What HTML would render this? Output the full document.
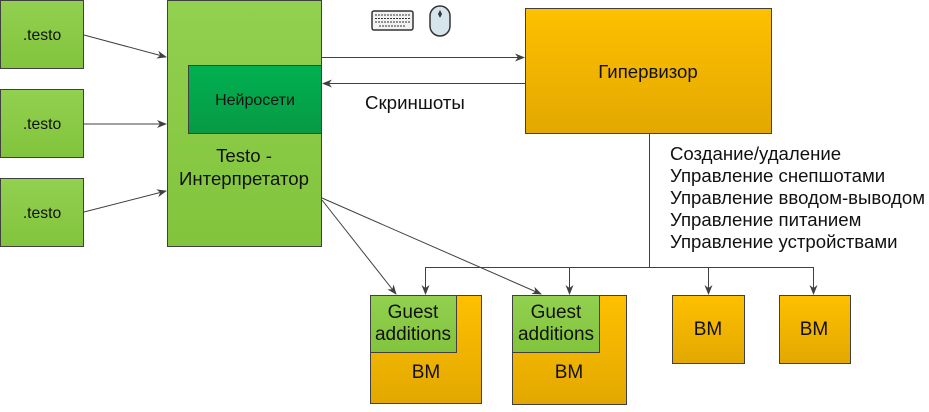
<!DOCTYPE html>
<html><head><meta charset="utf-8"><style>
body{margin:0;width:929px;height:407px;background:#fff;overflow:hidden;font-family:"Liberation Sans",sans-serif;}
</style></head><body>
<svg width="929" height="407" xmlns="http://www.w3.org/2000/svg" font-family="Liberation Sans, sans-serif">
<defs>
<linearGradient id="g" x1="0" y1="0" x2="0" y2="1"><stop offset="0" stop-color="#92d050"/><stop offset="1" stop-color="#82c43c"/></linearGradient>
<linearGradient id="dg" x1="0" y1="0" x2="0" y2="1"><stop offset="0" stop-color="#00b050"/><stop offset="1" stop-color="#079a45"/></linearGradient>
<linearGradient id="o" x1="0" y1="0" x2="0" y2="1"><stop offset="0" stop-color="#ffc000"/><stop offset="1" stop-color="#e2a800"/></linearGradient>
<marker id="a" markerWidth="10" markerHeight="8" refX="9" refY="4" orient="auto" markerUnits="userSpaceOnUse"><path d="M0,0 L10,4 L0,8 L3,4 z" fill="#404040"/></marker>
</defs>
<g stroke="#404040" stroke-width="1">
<rect x="0.5" y="0.5" width="83" height="68" fill="url(#g)"/>
<rect x="0.5" y="89.5" width="83" height="68" fill="url(#g)"/>
<rect x="0.5" y="178.5" width="83" height="68" fill="url(#g)"/>
<rect x="167.5" y="0.5" width="154" height="246" fill="url(#g)"/>
<rect x="188.5" y="65.5" width="133" height="68" fill="url(#dg)"/>
<rect x="525.5" y="8.5" width="246" height="125" fill="url(#o)"/>
<rect x="370.5" y="295.5" width="111" height="108" fill="url(#o)"/>
<rect x="370.5" y="295.5" width="86" height="57" fill="url(#g)"/>
<rect x="512.5" y="295.5" width="114" height="109" fill="url(#o)"/>
<rect x="512.5" y="295.5" width="87" height="57" fill="url(#g)"/>
<rect x="672.5" y="295.5" width="72" height="68" fill="url(#o)"/>
<rect x="779.5" y="295.5" width="71" height="68" fill="url(#o)"/>
</g>
<g stroke="#404040" stroke-width="1" fill="none">
<line x1="84" y1="35" x2="166" y2="57" marker-end="url(#a)"/>
<line x1="84" y1="124" x2="166" y2="124" marker-end="url(#a)"/>
<line x1="84" y1="212" x2="166" y2="191" marker-end="url(#a)"/>
<line x1="322" y1="57.5" x2="524" y2="57.5" marker-end="url(#a)"/>
<line x1="525" y1="83.5" x2="323" y2="83.5" marker-end="url(#a)"/>
<line x1="322" y1="200" x2="396" y2="294" marker-end="url(#a)"/>
<line x1="322" y1="198" x2="541" y2="294" marker-end="url(#a)"/>
<path d="M649.5,134 V267.5 M425.5,267.5 H814"/>
<line x1="425.5" y1="267" x2="425.5" y2="294" marker-end="url(#a)"/>
<line x1="569.5" y1="267" x2="569.5" y2="294" marker-end="url(#a)"/>
<line x1="708.5" y1="267" x2="708.5" y2="294" marker-end="url(#a)"/>
<line x1="813.5" y1="267" x2="813.5" y2="294" marker-end="url(#a)"/>
</g>
<rect x="372" y="11" width="41" height="19" rx="2" fill="#f2f2f2" stroke="#333" stroke-width="1.5"/>
<g stroke="#333" stroke-width="1" stroke-dasharray="2,1"><line x1="375" y1="15" x2="410" y2="15"/><line x1="375" y1="18.5" x2="410" y2="18.5"/><line x1="375" y1="22" x2="410" y2="22"/><line x1="379" y1="26" x2="406" y2="26"/></g>
<rect x="430" y="6" width="20" height="30" rx="10" fill="#d6e4ec" stroke="#333" stroke-width="1.5"/>
<path d="M440,10 L442,14 L440,18 L438,14 z" fill="#333"/>
<g fill="#111" font-size="15.7" text-anchor="middle">
<text x="42" y="40">.testo</text><text x="42" y="129">.testo</text><text x="42" y="218">.testo</text>
<text x="255" y="105" font-size="16">Нейросети</text>
<text x="244" y="162" font-size="18.6">Testo -</text>
<text x="244" y="185" font-size="18.6">Интерпретатор</text>
<text x="648" y="78" font-size="18.6">Гипервизор</text>
<text x="413" y="318" font-size="19">Guest</text><text x="413" y="340" font-size="19">additions</text>
<text x="556" y="318" font-size="19">Guest</text><text x="556" y="340" font-size="19">additions</text>
<text x="426" y="378" font-size="19">ВМ</text><text x="569" y="378" font-size="19">ВМ</text>
<text x="708" y="335" font-size="19">ВМ</text><text x="814" y="335" font-size="19">ВМ</text>
</g>
<text x="365" y="109" font-size="18.7" fill="#111">Скриншоты</text>
<g font-size="18.6" fill="#111">
<text x="670" y="160">Создание/удаление</text>
<text x="670" y="182">Управление снепшотами</text>
<text x="670" y="204">Управление вводом-выводом</text>
<text x="670" y="226">Управление питанием</text>
<text x="670" y="248">Управление устройствами</text>
</g>
</svg>
</body></html>
